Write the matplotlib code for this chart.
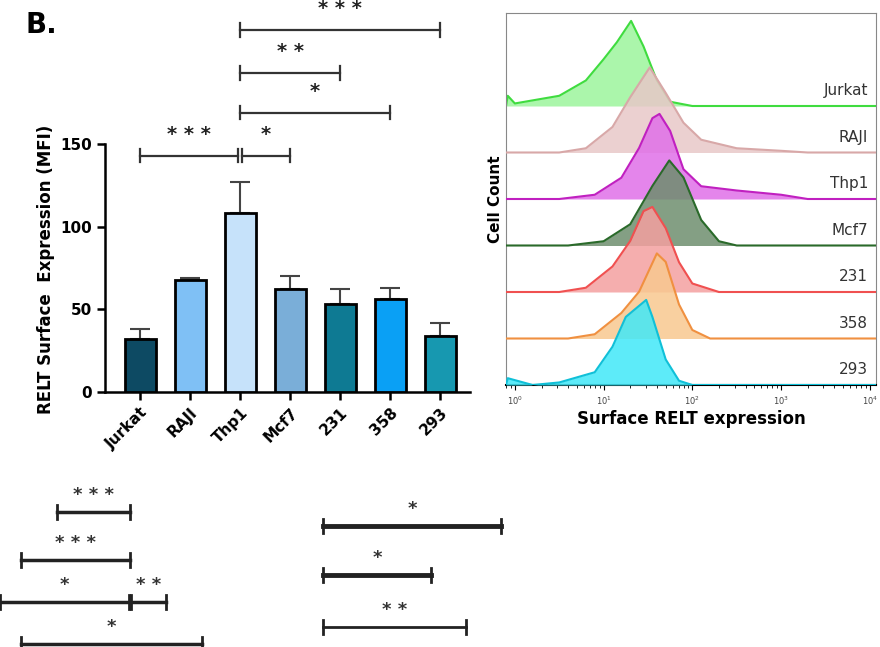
import numpy as np
import matplotlib.pyplot as plt

# bar chart data
cells = ['Jurkat', 'RAJI', 'Thp1', 'Mcf7', '231', '358', '293']
mfi = [32, 68, 108, 62, 53, 56, 34]
mfi_err = [6, 1, 19, 8, 9, 7, 8]
bar_colors = ['#0d4a63', '#7fc0f5', '#c6e2fa', '#7aaed8', '#0e7a93', '#0aa0f5', '#1798b0']
# significance brackets: (from, to, height, stars)
sig = [(0, 2, 143, '* * *'), (2, 3, 143, '*'), (2, 5, 169, '*'),
       (2, 4, 193, '* *'), (2, 6, 219, '* * *')]

# flow histograms: log10(x) points and relative heights
hist_x = {
    'Jurkat': [-0.1, -0.08, 0.0, 0.5, 0.8, 1.0, 1.15, 1.31, 1.45, 1.6, 1.75, 2.0, 4.1],
    'RAJI': [-0.1, 0.5, 0.8, 1.1, 1.3, 1.52, 1.7, 1.9, 2.1, 2.5, 3.0, 3.3, 4.1],
    'Thp1': [-0.1, 0.5, 0.9, 1.2, 1.4, 1.55, 1.63, 1.75, 1.9, 2.1, 2.5, 3.0, 3.3, 4.1],
    'Mcf7': [-0.1, 0.6, 1.0, 1.3, 1.55, 1.74, 1.9, 2.1, 2.3, 2.5, 4.1],
    '231': [-0.1, 0.5, 0.8, 1.1, 1.3, 1.45, 1.55, 1.7, 1.85, 2.0, 2.3, 4.1],
    '358': [-0.1, 0.6, 0.9, 1.2, 1.4, 1.6, 1.7, 1.85, 2.0, 2.2, 4.1],
    '293': [-0.1, -0.08, 0.2, 0.5, 0.9, 1.1, 1.25, 1.48, 1.55, 1.7, 1.85, 2.0, 4.1],
}
hist_y = {
    'Jurkat': [0.0, 0.12, 0.03, 0.12, 0.3, 0.55, 0.75, 1.0, 0.7, 0.3, 0.05, 0.0, 0.0],
    'RAJI': [0.0, 0.0, 0.05, 0.3, 0.65, 1.0, 0.7, 0.35, 0.15, 0.05, 0.02, 0.0, 0.0],
    'Thp1': [0.0, 0.0, 0.05, 0.25, 0.6, 0.95, 1.0, 0.8, 0.35, 0.15, 0.1, 0.05, 0.0, 0.0],
    'Mcf7': [0.0, 0.0, 0.05, 0.25, 0.7, 1.0, 0.8, 0.3, 0.05, 0.0, 0.0],
    '231': [0.0, 0.0, 0.05, 0.3, 0.6, 0.95, 1.0, 0.75, 0.35, 0.1, 0.0, 0.0],
    '358': [0.0, 0.0, 0.05, 0.3, 0.55, 1.0, 0.9, 0.4, 0.1, 0.0, 0.0],
    '293': [0.0, 0.08, 0.0, 0.03, 0.15, 0.45, 0.8, 1.0, 0.8, 0.3, 0.05, 0.0, 0.0],
}
line_cols = ['#3fdc3f', '#d8a8a8', '#c020c0', '#2a6a2a', '#f05050', '#f09040', '#10c0d8']
fill_cols = ['#9cf59c', '#e8c8c8', '#e070e8', '#6e8e6e', '#f4a0a0', '#f8c890', '#40e8f8']

fig = plt.figure(figsize=(8.8, 6.47), dpi=100)

# ---- bar chart
ax = fig.add_axes([105/880, 1-392/647, 365/880, 372/647])
x = np.arange(len(cells))
ax.bar(x, mfi, 0.62, color=bar_colors, edgecolor='black', linewidth=2, zorder=3)
ax.errorbar(x, mfi, yerr=[np.zeros(len(mfi)), mfi_err], fmt='none',
            ecolor='#444444', elinewidth=1.5, capsize=7, capthick=1.5, zorder=2)
ax.set_ylim(0, 225)
ax.set_xlim(-0.7, 6.6)
ax.set_yticks([0, 50, 100, 150])
ax.spines['left'].set_bounds(0, 150)
for s in ['top', 'right']:
    ax.spines[s].set_visible(False)
ax.spines['left'].set_linewidth(1.8)
ax.spines['bottom'].set_linewidth(1.8)
ax.tick_params(width=1.8, length=6, labelsize=11)
for t in ax.get_yticklabels():
    t.set_fontweight('bold')
ax.set_xticks(x)
ax.set_xticklabels(cells, rotation=45, ha='right', rotation_mode='anchor',
                   fontweight='bold', fontsize=11)
ax.set_ylabel('RELT Surface  Expression (MFI)', fontweight='bold', fontsize=12, y=0.33)
for a, b, h, s in sig:
    xa = a + (0.04 if (a == 2 and b == 3) else 0)
    xb = b - (0.04 if (a == 0 and b == 2) else 0)
    ax.plot([xa, xb], [h, h], color='#333333', lw=1.6, clip_on=False)
    ax.plot([xa, xa], [h-4, h+4], color='#333333', lw=1.6, clip_on=False)
    ax.plot([xb, xb], [h-4, h+4], color='#333333', lw=1.6, clip_on=False)
    ax.text((xa+xb)/2, h+7, s, ha='center', va='bottom', fontsize=14,
            fontweight='bold', color='#222222')

# ---- flow histograms
hx = fig.add_axes([506/880, 1-385/647, 370/880, 372/647])
n = len(cells)
for i, c in enumerate(cells):
    base = n - 1 - i
    xs = 10 ** np.array(hist_x[c])
    ys = base + 1.83 * np.array(hist_y[c])
    hx.fill_between(xs, base, ys, color=fill_cols[i], alpha=0.85, zorder=2+i, lw=0)
    hx.plot(xs, ys, color=line_cols[i], lw=1.5, zorder=2+i)
    hx.text(10**3.98, base + 0.33, c, ha='right', va='center', fontsize=11, color='#333333', zorder=20)
hx.set_xscale('log')
hx.set_xlim(10**-0.1, 10**4.07)
hx.set_ylim(0, 8)
hx.set_yticks([])
hx.set_xticks([1, 10, 100, 1000, 10000])
hx.set_xticklabels(['$10^0$', '$10^1$', '$10^2$', '$10^3$', '$10^4$'], fontsize=6, color='#444444')
for s in hx.spines.values():
    s.set_color('#888888')
hx.spines['bottom'].set_color('black')
hx.spines['bottom'].set_linewidth(1.5)
hx.set_xlabel('Surface RELT expression', fontweight='bold', fontsize=12, labelpad=2)
hx.set_ylabel('Cell Count', fontweight='bold', fontsize=11, labelpad=2)

fig.text(25/880, 1-25/647, 'B.', fontsize=20, fontweight='bold', ha='left', va='center')

# ---- cropped brackets at the bottom (pixel overlay)
left_br = [(57, 130, 512, '* * *', 2.5), (21, 130, 560, '* * *', 2.5),
           (0, 129, 602, '*', 2.5), (131, 166, 602, '* *', 2.5), (21, 202, 644, '*', 2.5)]
right_br = [(323, 501, 526, '*', 3.5), (323, 431, 575, '*', 3.5), (323, 466, 627, '* *', 2)]
ov = fig.add_axes([0, 0, 1, 1])
ov.set_xlim(0, 880)
ov.set_ylim(647, 0)
ov.axis('off')
for x0, x1, y, s, w in left_br + right_br:
    ov.plot([x0, x1], [y, y], color='#222222', lw=w)
    ov.plot([x0, x0], [y-7, y+7], color='#222222', lw=2)
    ov.plot([x1, x1], [y-7, y+7], color='#222222', lw=2)
    ov.text((x0+x1)/2, y-8, s, ha='center', va='bottom', fontsize=13,
            fontweight='bold', color='#333333')

fig.savefig('out.png', dpi=100)
